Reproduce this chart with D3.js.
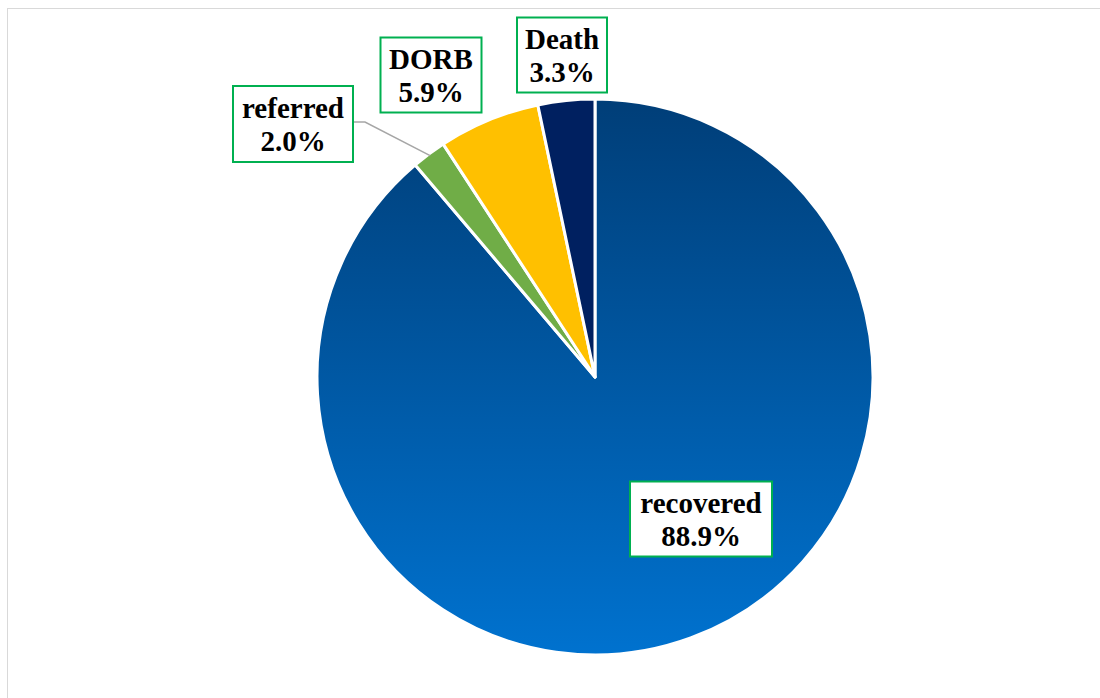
<!DOCTYPE html>
<html>
<head>
<meta charset="utf-8">
<script src="https://cdn.jsdelivr.net/npm/d3@7"></script>
<style>
  body { margin: 0; background: #fff; }
  svg { display: block; }
</style>
</head>
<body>
<script>
// Chart data
const categories = ["recovered", "referred", "DORB", "Death"];
const values = [88.9, 2.0, 5.9, 3.3];
const colors = ["url(#recovered-grad)", "#70ad47", "#ffc000", "#002060"];

// Layout
const width = 1100;
const height = 698;
const cx = 595;
const cy = 377;
const radius = 278;

// Label box centres (relative to the pie centre) and sizes
const labelCenters = [[106, 142], [-302, -253], [-164, -302], [-33, -322]];
const labelBoxes = [[142, 75], [120, 76], [101, 75], [90, 75]];

const svg = d3
  .select("body")
  .append("svg")
  .attr("width", width)
  .attr("height", height);

// Chart area border
svg
  .append("rect")
  .attr("x", 7.5)
  .attr("y", 8.5)
  .attr("width", width)
  .attr("height", height)
  .attr("fill", "none")
  .attr("stroke", "#d9d9d9")
  .attr("stroke-width", 1);

// Gradient for the large slice (in the pie group's coordinates)
const grad = svg
  .append("defs")
  .append("linearGradient")
  .attr("id", "recovered-grad")
  .attr("gradientUnits", "userSpaceOnUse")
  .attr("x1", 0)
  .attr("y1", -radius)
  .attr("x2", 0)
  .attr("y2", radius);
grad.append("stop").attr("offset", "0%").attr("stop-color", "#003e78");
grad.append("stop").attr("offset", "100%").attr("stop-color", "#0072cf");

const pie = d3.pie().sort(null).value((d) => d);
const arcs = pie(values);
const arc = d3.arc().innerRadius(0).outerRadius(radius);

const g = svg.append("g").attr("transform", `translate(${cx}, ${cy})`);

g.selectAll("path.slice")
  .data(arcs)
  .enter()
  .append("path")
  .attr("class", "slice")
  .attr("d", arc)
  .attr("fill", (d, i) => colors[i])
  .attr("stroke", "#fff")
  .attr("stroke-width", 3)
  .attr("stroke-linejoin", "round");

// Leader line for the "referred" label
const refArc = arcs[1];
const refMid = (refArc.startAngle + refArc.endAngle) / 2;
const refEdge = [
  Math.sin(refMid) * (radius - 2),
  -Math.cos(refMid) * (radius - 2),
];
const refBoxRight = labelCenters[1][0] + labelBoxes[1][0] / 2;
g.append("polyline")
  .attr(
    "points",
    [
      [refBoxRight, labelCenters[1][1] - 2],
      [refBoxRight + 12, labelCenters[1][1] - 2],
      refEdge,
    ]
      .map((p) => p.join(","))
      .join(" ")
  )
  .attr("fill", "none")
  .attr("stroke", "#a6a6a6")
  .attr("stroke-width", 1.5);

// Data labels
const labels = g
  .selectAll("g.label")
  .data(arcs)
  .enter()
  .append("g")
  .attr("class", "label")
  .attr("transform", (d, i) => `translate(${labelCenters[i][0]}, ${labelCenters[i][1]})`);

labels
  .append("rect")
  .attr("x", (d, i) => -labelBoxes[i][0] / 2)
  .attr("y", (d, i) => -labelBoxes[i][1] / 2)
  .attr("width", (d, i) => labelBoxes[i][0])
  .attr("height", (d, i) => labelBoxes[i][1])
  .attr("fill", "#fff")
  .attr("stroke", "#00b050")
  .attr("stroke-width", 2);

const text = labels
  .append("text")
  .attr("text-anchor", "middle")
  .attr("font-family", "Liberation Serif, serif")
  .attr("font-weight", "bold")
  .attr("font-size", 29)
  .attr("fill", "#000");

text
  .append("tspan")
  .attr("x", 0)
  .attr("y", -6)
  .text((d, i) => categories[i]);

text
  .append("tspan")
  .attr("x", 0)
  .attr("y", 27)
  .text((d) => d.data.toFixed(1) + "%");
</script>
</body>
</html>
